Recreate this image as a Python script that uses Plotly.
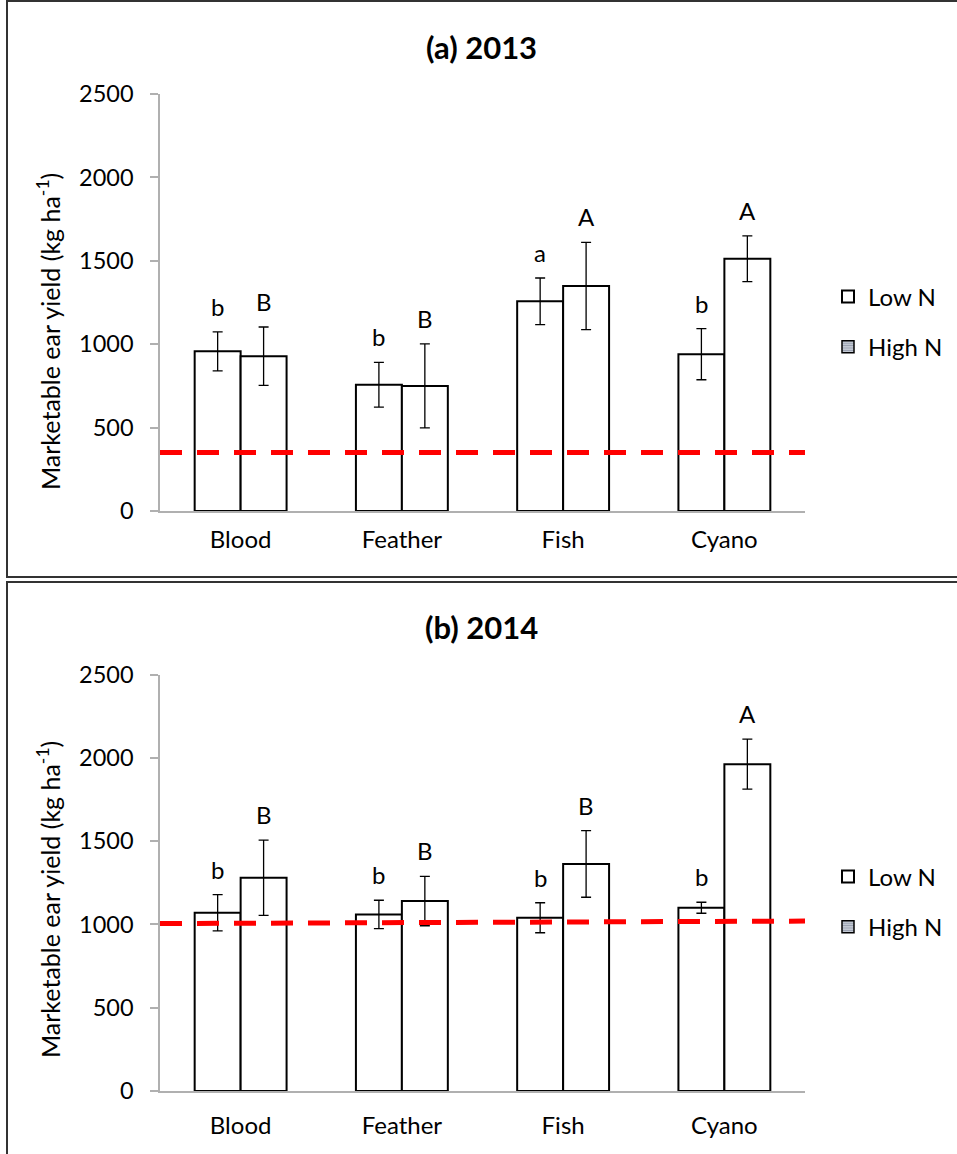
import plotly.graph_objects as go

categories = ["Blood", "Feather", "Fish", "Cyano"]

# Panel (a) 2013
low_2013 = [957, 757, 1257, 940]
low_2013_err = [117, 134, 140, 153]
high_2013 = [928, 750, 1349, 1512]
high_2013_err = [175, 252, 262, 137]
low_2013_letters = ["b", "b", "a", "b"]
high_2013_letters = ["B", "B", "A", "A"]
threshold_2013 = [350, 350]

# Panel (b) 2014
low_2014 = [1070, 1060, 1040, 1100]
low_2014_err = [109, 85, 90, 33]
high_2014 = [1280, 1140, 1363, 1962]
high_2014_err = [226, 148, 200, 150]
low_2014_letters = ["b", "b", "b", "b"]
high_2014_letters = ["B", "B", "B", "A"]
threshold_2014 = [1005, 1020]

yticks = [0, 500, 1000, 1500, 2000, 2500]
titles = ["(a) 2013", "(b) 2014"]
ytitle = "Marketable ear yield (kg ha<sup>-1</sup>)"

W, H = 957, 1154
FONT = "Lato"
def px(x):
    return x / W
def py(y):
    return 1 - y / H

fig = go.Figure()

panels = [
    dict(low=low_2013, low_err=low_2013_err, high=high_2013, high_err=high_2013_err,
         ll=low_2013_letters, hl=high_2013_letters, thr=threshold_2013,
         xa="x", ya="y", legend="legend", title=titles[0], ty=47, yt=332),
    dict(low=low_2014, low_err=low_2014_err, high=high_2014, high_err=high_2014_err,
         ll=low_2014_letters, hl=high_2014_letters, thr=threshold_2014,
         xa="x2", ya="y2", legend="legend2", title=titles[1], ty=627, yt=900),
]

bar_line = dict(color="black", width=2)
err_style = dict(type="data", color="black", thickness=1.3, width=5)

annotations = []
shapes = []
for i, p in enumerate(panels):
    g = "p%d" % i
    fig.add_trace(go.Bar(
        x=categories, y=p["low"], name="Low N", xaxis=p["xa"], yaxis=p["ya"],
        marker=dict(color="white", line=bar_line),
        error_y=dict(array=p["low_err"], **err_style),
        offsetgroup="low", legend=p["legend"], legendgroup=g + "low",
    ))
    fig.add_trace(go.Bar(
        x=categories, y=p["high"], name="High N", xaxis=p["xa"], yaxis=p["ya"],
        marker=dict(color="white", line=bar_line),
        error_y=dict(array=p["high_err"], **err_style),
        offsetgroup="high", showlegend=False, legend=p["legend"],
    ))
    # legend-only entry for High N (striped swatch)
    fig.add_trace(go.Bar(
        x=[None], y=[None], name="High N", xaxis=p["xa"], yaxis=p["ya"],
        marker=dict(color="white", line=dict(color="black", width=1.5),
                    pattern=dict(shape="-", fgcolor="#4f5a72", bgcolor="#dfe3ea", size=3, solidity=0.6)),
        offsetgroup="high", legend=p["legend"], legendgroup=g + "high",
    ))
    # significance letters
    for c, v, e, t in zip(categories, p["low"], p["low_err"], p["ll"]):
        annotations.append(dict(x=c, y=v + e, xref=p["xa"], yref=p["ya"], text=t,
                                showarrow=False, xshift=-23, yanchor="bottom", yshift=9,
                                font=dict(family=FONT, size=24, color="black")))
    for c, v, e, t in zip(categories, p["high"], p["high_err"], p["hl"]):
        annotations.append(dict(x=c, y=v + e, xref=p["xa"], yref=p["ya"], text=t,
                                showarrow=False, xshift=23, yanchor="bottom", yshift=9,
                                font=dict(family=FONT, size=24, color="black")))
    # threshold dashed line
    shapes.append(dict(type="line", xref=p["xa"] + " domain", yref=p["ya"],
                       x0=0, x1=1, y0=p["thr"][0], y1=p["thr"][1],
                       line=dict(color="#ff0000", width=5, dash="22px,15px"), layer="above"))
    # panel title
    annotations.append(dict(x=px(481), y=py(p["ty"]), xref="paper", yref="paper",
                            text="<b>" + p["title"] + "</b>", showarrow=False, yanchor="middle",
                            font=dict(family=FONT, size=31, color="black")))
    # y-axis title
    annotations.append(dict(x=px(48), y=py(p["yt"]), xref="paper", yref="paper", text=ytitle,
                            textangle=-90, showarrow=False, xanchor="center", yanchor="middle",
                            font=dict(family=FONT, size=25, color="black")))

# panel borders
shapes.append(dict(type="rect", xref="paper", yref="paper", x0=px(7), x1=px(970), y0=py(577), y1=py(1),
                   line=dict(color="#333333", width=2)))
shapes.append(dict(type="rect", xref="paper", yref="paper", x0=px(7), x1=px(970), y0=py(1170), y1=py(582),
                   line=dict(color="#333333", width=2)))

xdom = [px(160), px(805)]
axis_line = "#b0b0b0"
xaxis_common = dict(domain=xdom, type="category", range=[-0.5, 3.5], showgrid=False, showline=True,
                    linecolor=axis_line, linewidth=1.5, ticks="",
                    tickfont=dict(family=FONT, size=24, color="black"), automargin=False, fixedrange=True)
yaxis_common = dict(range=[0, 2500], tickvals=yticks, showgrid=False, showline=True, linecolor=axis_line,
                    linewidth=1.5, ticks="outside", ticklen=8, tickcolor=axis_line, tickwidth=1.5,
                    ticklabelstandoff=12, zeroline=False, fixedrange=True,
                    tickfont=dict(family=FONT, size=23.5, color="black"), automargin=False)

fig.update_layout(
    width=W, height=H, margin=dict(l=0, r=0, t=0, b=0, pad=0),
    paper_bgcolor="white", plot_bgcolor="white",
    barmode="group", bargap=0.43, bargroupgap=0,
    showlegend=True,
    xaxis=dict(anchor="y", ticklabelstandoff=6, **xaxis_common),
    yaxis=dict(anchor="x", domain=[py(511), py(94)], **yaxis_common),
    xaxis2=dict(anchor="y2", ticklabelstandoff=12, **xaxis_common),
    yaxis2=dict(anchor="x2", domain=[py(1091), py(674.5)], **yaxis_common),
    legend=dict(x=px(828), y=py(322), yanchor="middle", xanchor="left", traceorder="grouped",
                tracegroupgap=16, font=dict(family=FONT, size=24, color="black"), bgcolor="rgba(0,0,0,0)"),
    legend2=dict(x=px(828), y=py(902), yanchor="middle", xanchor="left", traceorder="grouped",
                 tracegroupgap=16, font=dict(family=FONT, size=24, color="black"), bgcolor="rgba(0,0,0,0)"),
    annotations=annotations,
    shapes=shapes,
)

fig.write_html("out.html", config={"displayModeBar": False},
               post_script="document.body.style.margin='0px';document.body.style.overflow='hidden';")
